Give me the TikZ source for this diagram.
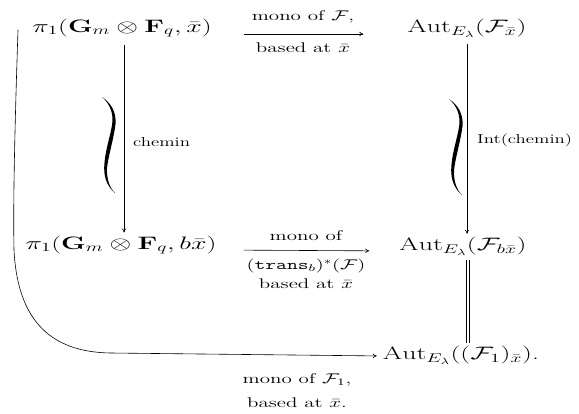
\RequirePackage{fix-cm}
\documentclass[tikz,border=0pt]{standalone}
\usepackage{amsmath,amssymb}
\usepackage{graphicx}
\usetikzlibrary{arrows.meta,calc}
\newcommand{\hs}[1]{\scalebox{1.55}[1]{#1}}
\newcommand{\hl}[1]{\scalebox{1.5}[1]{#1}}
\newcommand{\hsrm}[1]{\scalebox{1.45}[1]{#1}}
\tikzset{
  big/.style={inner sep=0pt, font=\fontsize{18}{21}\selectfont},
  lab/.style={inner sep=0pt, font=\fontsize{14}{16}\selectfont},
  sidelab/.style={inner sep=0pt, font=\fontsize{13}{15}\selectfont},
  ar/.style={-{To[length=4pt,width=4.5pt]}, line width=0.6pt},
  ln/.style={line width=0.6pt},
  homot/.style={fill=black, draw=none}
}
\begin{document}
\begin{tikzpicture}[x=1pt,y=-1pt]
\useasboundingbox (0,0) rectangle (579,414);
% nodes
\node[big] (A)  at (122,28)  {\hs{$\pi_1(\mathbf{G}_m\otimes\mathbf{F}_q,\bar x)$}};
\node[big] (B)  at (467,28)  {\hs{$\mathrm{Aut}_{E_\lambda}(\mathcal{F}_{\bar x})$}};
\node[big] (A2) at (121,245) {\hs{$\pi_1(\mathbf{G}_m\otimes\mathbf{F}_q,b\bar x)$}};
\node[big] (B2) at (463,246) {\hs{$\mathrm{Aut}_{E_\lambda}(\mathcal{F}_{b\bar x})$}};
\node[big] (C)  at (461,355) {\hs{$\mathrm{Aut}_{E_\lambda}((\mathcal{F}_1)_{\bar x})$.}};
% labels
\node[lab] (l1) at (303,17)  {\hl{mono of $\mathcal{F}$,}};
\node[lab] (l2) at (303,48)  {\hl{based at $\bar x$}};
\node[lab] (l3) at (306,236) {\hl{mono of}};
\node[lab] (l4) at (306,266) {\hl{$(\texttt{trans}_b)^*(\mathcal{F})$}};
\node[lab] (l5) at (306,284) {\hl{based at $\bar x$}};
\node[lab] (l6) at (297,380) {\hl{mono of $\mathcal{F}_1$,}};
\node[lab] (l7) at (297,403) {\hl{based at $\bar x$.}};
\node[sidelab, anchor=west] (c1) at (133,142) {\hsrm{chemin}};
\node[sidelab, anchor=west] (c2) at (477,140) {\hsrm{Int(chemin)}};
% horizontal arrows
\draw[ar, shorten <=32pt, shorten >=44pt] ([yshift=-6pt]A.east) -- ([yshift=-6pt]B.west);
\draw[ar, shorten <=27pt, shorten >=30pt] ([yshift=-5pt]A2.east) -- ([yshift=-5pt]B2.west);
% vertical arrows
\draw[ar, shorten <=7pt, shorten >=3pt] ([xshift=2pt]A.south) -- ([xshift=2pt]A.south |- A2.north);
\draw[ar, shorten <=7pt, shorten >=3pt] (B.south) -- (B.south |- B2.north);
% equality
\draw[ln, shorten <=5pt, shorten >=3pt] ([xshift=3.5pt]B2.south) -- ([xshift=3.5pt]B2.south |- C.north);
\draw[ln, shorten <=5pt, shorten >=3pt] ([xshift=6.5pt]B2.south) -- ([xshift=6.5pt]B2.south |- C.north);
% curved arrow
\coordinate (s) at (18,30);
\draw[ar, shorten >=6pt] (s) .. controls (15,120) and (13,200) .. (14,250)
  .. controls (18,330) and (60,352) .. (110,353) -- ([yshift=-1pt]C.west);
% homotopy marks
\foreach \dx/\dy in {0/0, 347/2} {
\begin{scope}[shift={(\dx,\dy)}]
\filldraw[homot] (102,97) .. controls (111,103) and (116.5,112) .. (115.5,124)
  .. controls (113.5,140) and (108.5,155) .. (107,168)
  .. controls (106.5,180) and (110,188) .. (115,193)
  .. controls (109,188) and (104,180) .. (104.2,168)
  .. controls (104.5,152) and (110,138) .. (112.2,124)
  .. controls (113.5,113) and (110,104) .. (102,97) -- cycle;
\end{scope}
}
\end{tikzpicture}
\end{document}
